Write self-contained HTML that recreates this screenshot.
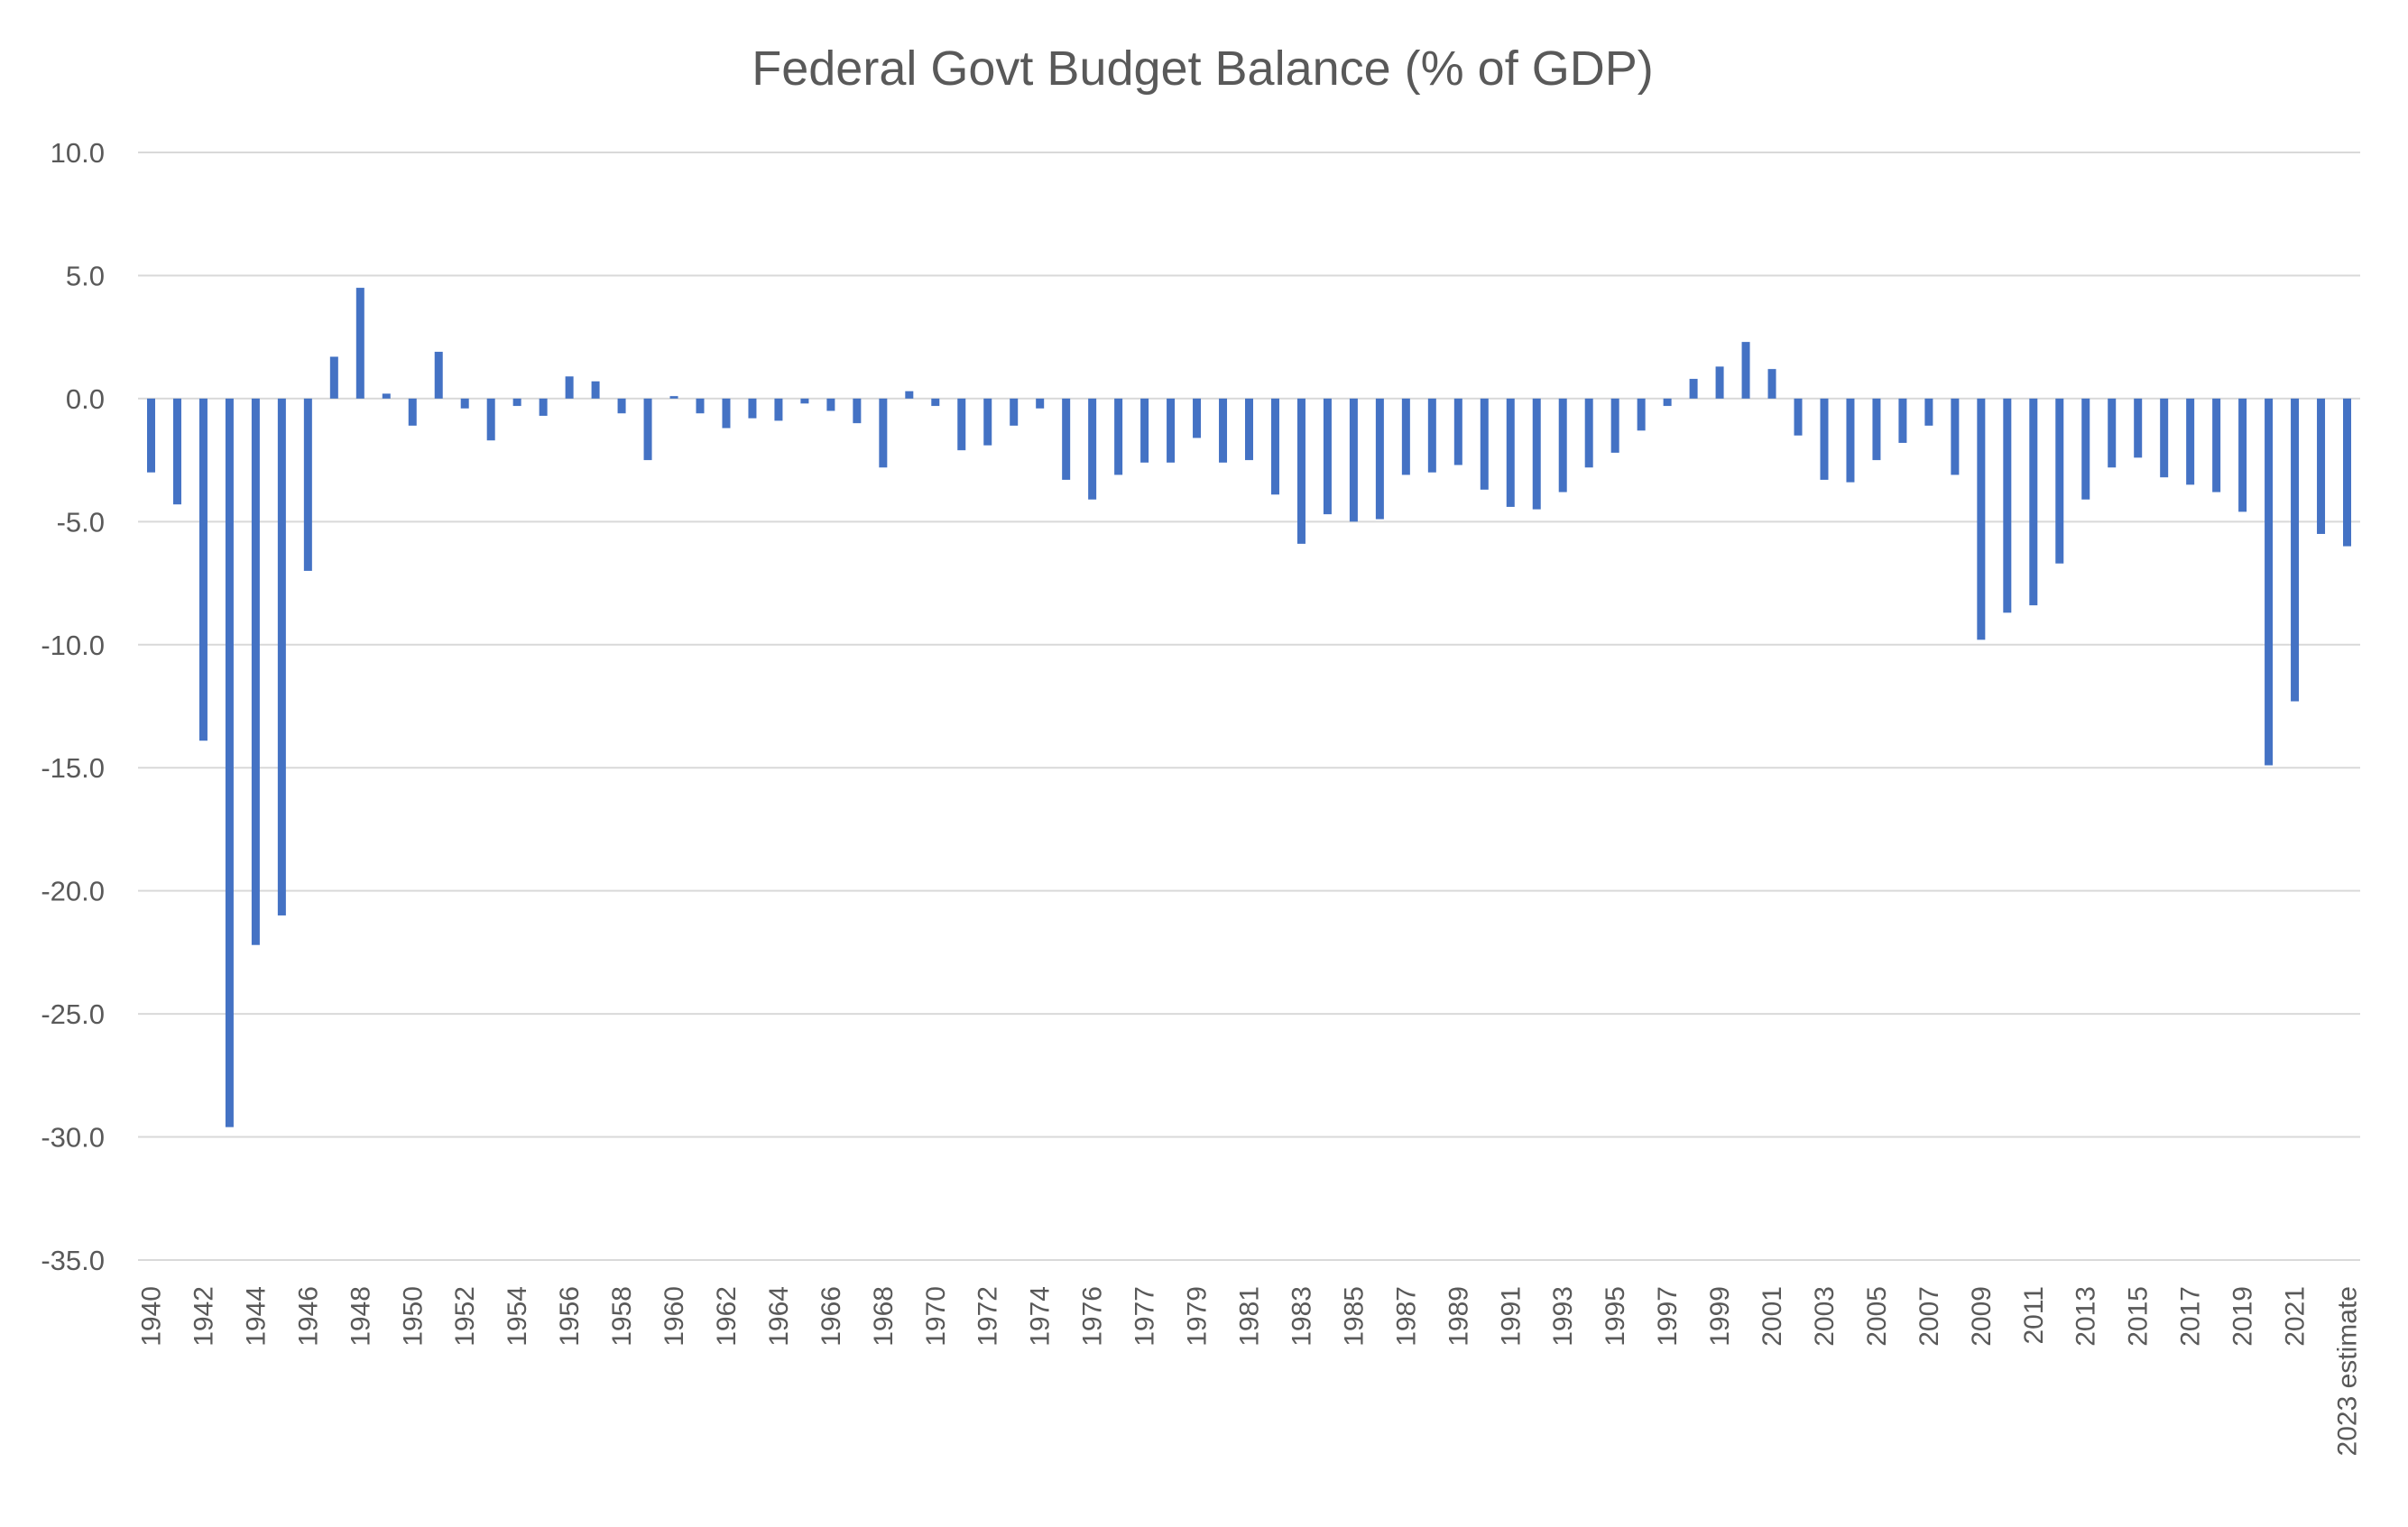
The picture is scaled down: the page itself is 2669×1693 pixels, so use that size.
<!DOCTYPE html>
<html><head><meta charset="utf-8"><style>
html,body{margin:0;padding:0;background:#fff;}
svg{display:block;}
text{font-family:"Liberation Sans",sans-serif;fill:#595959;}
</style></head><body>
<svg id="chart" width="2669" height="1693" viewBox="0 0 2669 1693" xmlns="http://www.w3.org/2000/svg">
<rect width="2669" height="1693" fill="#fff"/>
<text x="1333" y="94" text-anchor="middle" font-size="54">Federal Govt Budget Balance (% of GDP)</text>
<g id="grid"></g>
<g id="yaxis"></g>
<g id="bars"></g>
<g id="xaxis"></g>
</svg>
<script>
const categories = [];
for (let y = 1940; y <= 1976; y++) categories.push(String(y));
categories.push("TQ");
for (let y = 1977; y <= 2022; y++) categories.push(String(y));
categories.push("2023 estimate");

const values = [-3.0,-4.3,-13.9,-29.6,-22.2,-21.0,-7.0,1.7,4.5,0.2,
-1.1,1.9,-0.4,-1.7,-0.3,-0.7,0.9,0.7,-0.6,-2.5,
0.1,-0.6,-1.2,-0.8,-0.9,-0.2,-0.5,-1.0,-2.8,0.3,
-0.3,-2.1,-1.9,-1.1,-0.4,-3.3,-4.1,-3.1,-2.6,-2.6,
-1.6,-2.6,-2.5,-3.9,-5.9,-4.7,-5.0,-4.9,-3.1,-3.0,
-2.7,-3.7,-4.4,-4.5,-3.8,-2.8,-2.2,-1.3,-0.3,0.8,
1.3,2.3,1.2,-1.5,-3.3,-3.4,-2.5,-1.8,-1.1,-3.1,
-9.8,-8.7,-8.4,-6.7,-4.1,-2.8,-2.4,-3.2,-3.5,-3.8,
-4.6,-14.9,-12.3,-5.5,-6.0];

const yTicks = [10,5,0,-5,-10,-15,-20,-25,-30,-35];
const yTickLabels = ["10.0","5.0","0.0","-5.0","-10.0","-15.0","-20.0","-25.0","-30.0","-35.0"];

const NS = "http://www.w3.org/2000/svg";
const plotL = 153, plotR = 2616, plotT = 169, plotB = 1397;
const yMax = 10, yMin = -35;
function yScale(v){ return plotT + (yMax - v) / (yMax - yMin) * (plotB - plotT); }
const bandW = (plotR - plotL) / categories.length;
function xScale(i){ return plotL + bandW * (i + 0.5); }
function mk(tag, attrs){ const e = document.createElementNS(NS, tag); for (const k in attrs) e.setAttribute(k, attrs[k]); return e; }

const grid = document.getElementById('grid'), yaxis = document.getElementById('yaxis');
yTicks.forEach((t, i) => {
  const y = yScale(t);
  const ln = mk('line', {x1: plotL, x2: plotR, y1: y, y2: y, stroke: '#d9d9d9', 'stroke-width': 2});
  
  
  grid.appendChild(ln);
  const tx = mk('text', {x: 116, y: y + 11, 'text-anchor': 'end', 'font-size': 31});
  tx.textContent = yTickLabels[i];
  
  
  yaxis.appendChild(tx);
});

const bars = document.getElementById('bars');
const bw = 9;
values.forEach((v, i) => {
  const y0 = yScale(0), y1 = yScale(v);
  const r = mk('rect', {x: xScale(i) - bw/2, y: Math.min(y0, y1), width: bw, height: Math.max(Math.abs(y1 - y0), 1), fill: '#4472c4'});
  
  
  bars.appendChild(r);
});

const xaxis = document.getElementById('xaxis');
categories.forEach((c, i) => {
  if (i % 2 !== 0) return;
  const x = xScale(i) + 10, y = 1426;
  const tx = mk('text', {x: x, y: y, 'text-anchor': 'end', 'font-size': 30, transform: 'rotate(-90 ' + x + ' ' + y + ')'});
  tx.textContent = c;
  
  
  xaxis.appendChild(tx);
});
</script>
</body></html>
